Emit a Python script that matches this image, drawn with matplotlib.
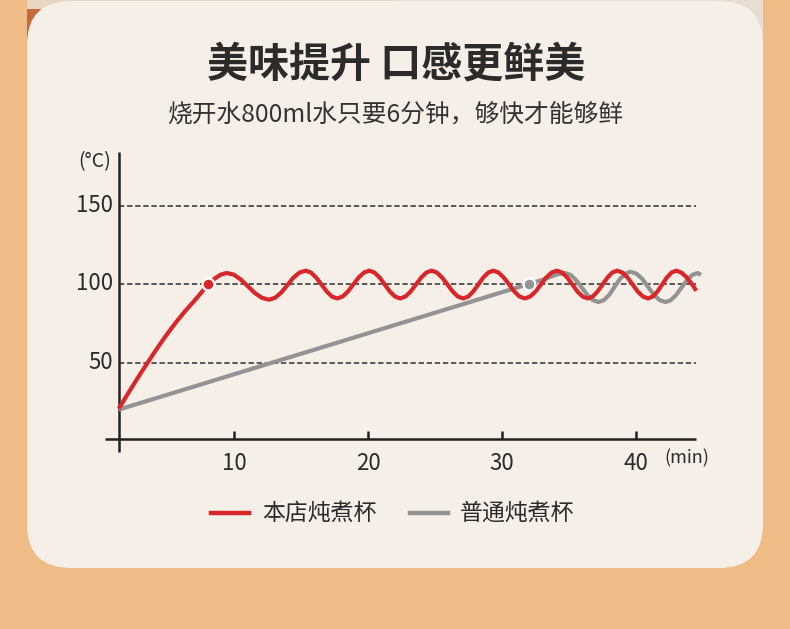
import matplotlib
matplotlib.use("Agg")
import matplotlib.pyplot as plt
from matplotlib.patches import FancyBboxPatch, Rectangle

plt.rcParams['font.family'] = ['Noto Sans CJK SC', 'DejaVu Sans']

# ---------------- data ----------------
title = "美味提升 口感更鲜美"
subtitle = "烧开水800ml水只要6分钟，够快才能够鲜"
series_names = ["本店炖煮杯", "普通炖煮杯"]
x_ticks = [10, 20, 30, 40]
y_ticks = [50, 100, 150]

red_x = [1.4, 1.95, 2.5, 3.05, 3.6, 4.15, 4.7, 5.2, 5.7, 6.3, 7.0, 7.5, 8.08,
         8.6, 9.0, 9.45,
         9.98, 10.5, 11.03, 11.55, 12.08, 12.6,
         13.06, 13.52, 13.98, 14.43, 14.89, 15.35,
         15.74, 16.13, 16.53, 16.92, 17.31, 17.7,
         18.1, 18.5, 18.9, 19.3, 19.7, 20.1,
         20.48, 20.87, 21.25, 21.63, 22.02, 22.4,
         22.79, 23.18, 23.58, 23.97, 24.36, 24.75,
         25.14, 25.53, 25.93, 26.32, 26.71, 27.1,
         27.48, 27.85, 28.23, 28.6, 28.98, 29.35,
         29.74, 30.13, 30.53, 30.92, 31.31, 31.7,
         32.1, 32.5, 32.9, 33.3, 33.7, 34.1,
         34.48, 34.87, 35.25, 35.63, 36.02, 36.4,
         36.77, 37.13, 37.5, 37.87, 38.23, 38.6,
         38.98, 39.37, 39.75, 40.13, 40.52, 40.9,
         41.25, 41.6, 41.95, 42.3, 42.65, 43.0,
         43.38, 43.75, 44.13, 44.5]
red_y = [20.5, 28.3, 35.9, 43.3, 50.5, 57.6, 64.4, 70.3, 75.9, 82.2, 88.9, 93.9, 100.0,
         103.7, 105.9, 107.0,
         106.0, 102.9, 98.6, 94.3, 91.2, 90.0,
         91.2, 94.5, 99.25, 104.0, 107.3, 108.5,
         107.3, 104.1, 99.65, 95.2, 92.0, 90.8,
         92.0, 95.2, 99.65, 104.1, 107.3, 108.5,
         107.3, 104.1, 99.65, 95.2, 92.0, 90.8,
         92.0, 95.2, 99.65, 104.1, 107.3, 108.5,
         107.3, 104.1, 99.65, 95.2, 92.0, 90.8,
         92.0, 95.2, 99.65, 104.1, 107.3, 108.5,
         107.3, 104.1, 99.65, 95.2, 92.0, 90.8,
         92.0, 95.2, 99.65, 104.1, 107.3, 108.5,
         107.3, 104.1, 99.65, 95.2, 92.0, 90.8,
         92.0, 95.2, 99.65, 104.1, 107.3, 108.5,
         107.3, 104.1, 99.65, 95.2, 92.0, 90.8,
         92.0, 95.2, 99.65, 104.1, 107.3, 108.5,
         107.3, 104.5, 100.5, 95.7]

gray_x = [1.4, 32.0, 33.0, 33.6, 34.2, 34.7,
          35.12, 35.53, 35.95, 36.37, 36.78, 37.2,
          37.6, 38.0, 38.4, 38.8, 39.2, 39.6,
          40.03, 40.47, 40.9, 41.33, 41.77, 42.2,
          42.6, 43.0, 43.4, 43.8, 44.2, 44.6, 44.85]
gray_y = [20.0, 100.0, 102.6, 104.6, 106.3, 107.0,
          105.8, 102.4, 97.75, 93.1, 89.7, 88.5,
          89.7, 93.1, 98.15, 103.2, 106.6, 107.8,
          106.6, 103.2, 98.15, 93.1, 89.7, 88.5,
          89.7, 93.1, 97.75, 102.4, 105.8, 107.0, 105.8]

red_marker = (8.08, 100.0)
gray_marker = (32.0, 100.0)

# ---------------- style ----------------
RED = "#D8262B"
GRAY = "#939393"
TXT = "#2B2B2B"
BG = "#EFBC87"
CARD = "#F5EFE8"

W, H = 790, 629
fig = plt.figure(figsize=(W / 100, H / 100), dpi=100, facecolor=BG)

# background photo strip behind card top corners
fig.add_artist(Rectangle((27, H - 40), 370, 40, transform=None,
                         facecolor="#C46A3C", edgecolor="none", zorder=0))
fig.add_artist(Rectangle((27, H - 9), 370, 9, transform=None,
                         facecolor="#E6D6C2", edgecolor="none", zorder=0))
fig.add_artist(Rectangle((397, H - 40), 366, 40, transform=None,
                         facecolor="#E9DED2", edgecolor="none", zorder=0))
# card
fig.add_artist(FancyBboxPatch((27, H - 568), 736, 567, transform=None,
                              boxstyle="round,pad=0,rounding_size=44",
                              facecolor=CARD, edgecolor="none", zorder=1))

fig.text(396 / W, 1 - 64 / H, title, ha="center", va="center",
         fontsize=29.5, fontweight="bold", color=TXT, zorder=5)
fig.text(395 / W, 1 - 115 / H, subtitle, ha="center", va="center",
         fontsize=17.8, color="#333333", zorder=5)

# axes: x 0 -> px 100, 13.4 px / min ; y 0 -> py 441, 1.57 px / degree
xlim = (-1, 46)
ylim = (-10, 190)
px_x0, px_per_x = 100, 13.4
py_y0, py_per_y = 441, 1.57
left = (px_x0 + xlim[0] * px_per_x) / W
width = (xlim[1] - xlim[0]) * px_per_x / W
bottom = (H - (py_y0 - ylim[0] * py_per_y)) / H
height = (ylim[1] - ylim[0]) * py_per_y / H
ax = fig.add_axes([left, bottom, width, height], zorder=3)
ax.set_xlim(*xlim)
ax.set_ylim(*ylim)
ax.axis("off")
ax.patch.set_alpha(0)

# gridlines
for v in y_ticks:
    ax.plot([1.4, 44.5], [v, v], color="#2E2E2E", lw=1.1,
            dashes=(3.5, 1.8), zorder=2)
    ax.text(0.95, v, str(v), ha="right", va="center", fontsize=16,
            color=TXT, clip_on=False)

# axes lines
ax.plot([1.4, 1.4], [-7, 184], color="#222222", lw=1.8, zorder=3,
        solid_capstyle="butt")
ax.plot([0.35, 44.5], [1.5, 1.5], color="#222222", lw=1.8, zorder=3,
        solid_capstyle="butt")
for t in x_ticks:
    ax.plot([t, t], [1.5, 6.5], color="#222222", lw=1.8, zorder=3,
            solid_capstyle="butt")
    ax.text(t, -14.5, str(t), ha="center", va="center", fontsize=16,
            color=TXT, clip_on=False)

ax.text(-0.4, 178, "(°C)", ha="center", va="center", fontsize=14,
        color=TXT, clip_on=False)
ax.text(43.8, -11, "(min)", ha="center", va="center", fontsize=13,
        color=TXT, clip_on=False)

# series
ax.plot(gray_x, gray_y, color=GRAY, lw=3.0, zorder=4,
        solid_joinstyle="round", solid_capstyle="butt")
ax.plot(red_x, red_y, color=RED, lw=3.0, zorder=5,
        solid_joinstyle="round", solid_capstyle="butt")
ax.plot([gray_marker[0]], [gray_marker[1]], "o", color=GRAY, ms=8.5,
        mec="white", mew=1.6, zorder=6)
ax.plot([red_marker[0]], [red_marker[1]], "o", color=RED, ms=8.5,
        mec="white", mew=1.6, zorder=6)

# legend
fig.add_artist(plt.Line2D([211 / W, 249 / W], [1 - 513 / H, 1 - 513 / H],
                          color=RED, lw=3.2, zorder=5))
fig.text(262 / W, 1 - 513 / H, series_names[0], ha="left", va="center",
         fontsize=16.5, color=TXT, zorder=5)
fig.add_artist(plt.Line2D([410 / W, 448 / W], [1 - 513 / H, 1 - 513 / H],
                          color=GRAY, lw=3.2, zorder=5))
fig.text(460 / W, 1 - 513 / H, series_names[1], ha="left", va="center",
         fontsize=16.5, color=TXT, zorder=5)

fig.savefig("out.png", dpi=100, facecolor=BG)
